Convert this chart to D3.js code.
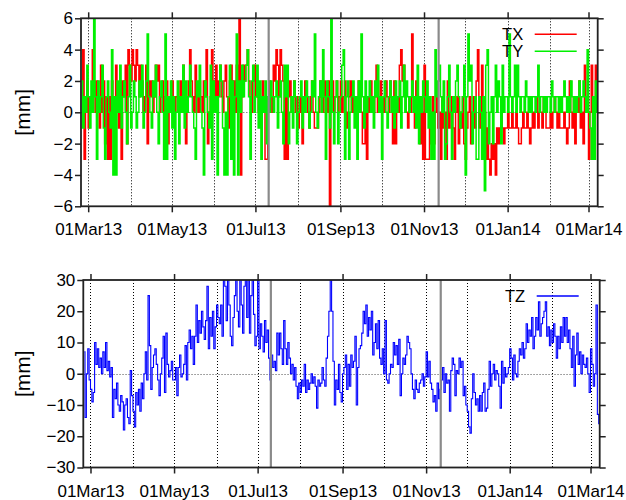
<!DOCTYPE html>
<html><head><meta charset="utf-8">
<script src="https://cdn.jsdelivr.net/npm/d3@7/dist/d3.min.js"></script>
<style>
body{margin:0;background:#fff}
svg{display:block}
text{font-family:"Liberation Sans",Arial,Helvetica,sans-serif;fill:#000}
</style>
</head><body>
<svg id="c" width="626" height="500"></svg>
<script>
// ---------- data ----------
const START_DATE = "2013-02-24T12:00:00Z";   // first daily sample
const X_DOMAIN = ["2013-02-23T18:00:00Z", "2014-03-07T17:00:00Z"];
const EVENT_DATES = ["2013-07-10T16:00:00Z", "2013-11-11T16:00:00Z"];
const TOP_Y_TICKS = [-6, -4, -2, 0, 2, 4, 6];
const BOTTOM_Y_TICKS = [-30, -20, -10, 0, 10, 20, 30];
const Y_LABEL = "[mm]";
const SERIES_NAMES = ["TX", "TY", "TZ"];

const TX = [
 1,4,-3,0,2,-1,1,0,4,2,
 0,2,1,-1,3,0,2,-2,1,-3,
 1,-3,2,0,1,3,0,-1,2,-3,
 2,1,3,-2,4,3,2,4,3,2,
 4,3,1,3,2,0,1,3,-2,2,
 1,2,0,1,3,2,3,0,1,2,
 0,1,2,-2,1,0,2,1,0,1,
 1,0,2,1,3,0,-2,1,2,4,
 2,1,0,3,1,0,2,1,0,2,
 1,4,-2,0,1,4,2,0,3,1,
 2,3,1,0,2,3,1,-1,2,3,
 1,2,0,3,2,6,-4,1,3,2,
 3,4,2,1,0,2,3,1,2,0,
 1,0,2,1,-3,-3,0,2,1,0,
 3,2,4,3,1,4,3,2,-3,1,
 -3,1,2,0,1,2,0,1,-1,0,
 1,-2,0,2,1,0,-1,1,2,0,
 -1,-1,-1,0,2,1,0,2,1,0,
 2,-6,1,2,0,1,2,0,1,2,
 0,1,2,-1,0,1,2,0,1,0,
 1,0,2,1,0,-2,-2,0,-3,1,
 0,2,1,0,1,3,0,1,2,0,
 1,0,2,1,0,2,1,-2,2,-2,
 1,0,3,4,2,3,1,0,-1,1,
 0,5,1,-1,2,0,1,-2,0,-3,
 3,-3,-3,-3,0,-2,1,-2,0,1,
 -1,0,-3,1,-1,0,-3,2,-1,0,
 1,-1,-3,0,1,-2,0,-1,1,-2,
 -3,-1,0,1,-2,0,1,-1,2,4,
 -1,0,3,-2,0,-3,-1,-3,-4,-2,
 -3,-2,-4,-1,-2,-1,0,-1,-2,-1,
 -1,0,-1,-1,0,-1,-1,0,-1,-2,
 -2,-1,0,-1,-1,0,-1,-2,-1,0,
 -1,0,1,-1,0,0,-1,1,0,-1,
 -1,-1,0,-1,0,1,0,-1,0,-1,
 -1,-1,0,-1,-2,-1,2,0,-1,1,
 -2,1,0,2,-1,0,-2,3,0,1,
 -3,0,3,-1,-3,3,2
];

const TY = [
 2,-1,1,0,3,1,-1,2,0,6,
 1,-3,2,0,1,3,-1,-3,1,2,
 0,-1,4,-4,1,-4,2,0,3,-1,
 1,2,0,-2,1,3,-1,0,2,1,
 -1,0,2,1,3,-1,0,2,5,1,
 0,-1,2,1,3,0,-2,1,2,0,
 -3,5,-3,1,0,2,-1,1,-3,0,
 2,-2,1,0,3,-1,2,0,1,3,
 1,0,-1,-3,2,1,3,0,-1,-4,
 2,1,0,-1,3,-3,2,0,1,-4,
 1,3,2,-1,-4,0,-4,1,3,-3,
 2,-4,1,5,-4,2,0,3,1,2,
 3,4,1,-3,2,3,0,1,3,-1,
 2,-3,1,0,2,-2,1,0,2,1,
 0,1,2,-1,1,2,0,-2,3,1,
 3,-2,0,1,-1,2,1,-2,0,1,
 2,-1,1,0,2,1,-1,0,2,1,
 5,0,-1,1,2,0,4,1,-3,2,
 1,-1,6,0,-2,1,2,-2,0,1,
 3,4,-3,1,2,-3,0,1,2,-1,
 1,-3,2,0,5,1,-1,2,0,1,
 2,0,1,-1,2,1,3,0,1,-3,
 1,2,0,-1,1,2,0,1,-1,2,
 0,1,2,-1,1,3,0,2,1,0,
 1,2,0,1,-1,3,-2,1,0,2,
 1,0,2,-1,1,-3,0,-3,4,1,
 2,3,1,0,2,-3,-2,1,3,0,
 -3,1,0,2,3,1,-1,0,1,3,
 -4,1,5,2,3,-2,0,1,-3,-3,
 1,0,-3,1,-5,3,4,-2,0,1,
 -2,1,3,0,2,1,-2,3,0,1,
 1,0,5,1,0,1,3,0,3,1,
 0,1,1,0,2,1,0,1,0,1,
 1,0,1,3,0,1,1,0,1,0,
 1,1,0,2,1,0,1,1,0,1,
 0,1,2,1,0,1,0,2,1,0,
 1,0,1,2,0,1,2,1,0,4,
 0,-1,-3,1,-3,2,0
];

const TZ = [
 7,-14,0,8,-2,-5,-9,-6,10,3,
 8,2,5,0,7,2,10,1,4,-1,
 2,-14,-5,-8,-3,-10,-12,-7,-9,-18,
 -10,-8,-14,-16,1,-7,-12,-17,-6,-10,
 -5,-12,-3,-8,0,7,-2,25,9,-5,
 2,6,8,3,-2,-7,0,5,12,-6,
 13,3,-1,1,4,-2,-2,2,-7,2,
 6,-1,0,3,9,-2,10,14,8,12,
 3,12,22,10,17,13,20,15,11,17,
 28,8,18,12,20,8,15,22,18,16,
 22,12,31,28,17,32,22,12,9,18,
 25,32,20,15,31,22,13,28,32,18,
 31,13,25,32,19,9,12,31,8,16,
 12,7,17,10,14,5,-2,6,2,4,
 1,13,6,13,8,3,17,8,3,10,
 5,0,3,-2,2,-4,-8,-3,-6,-2,
 -4,3,-6,-2,-5,-3,0,-3,-1,-4,
 -11,-2,-4,-3,2,-2,-4,5,12,20,
 31,20,4,-10,-2,-5,3,-6,-9,0,
 2,6,-5,3,-4,6,2,4,12,-10,
 2,8,9,13,20,16,22,12,18,14,
 20,6,10,16,8,17,5,3,8,0,
 17,-2,-3,0,3,2,10,6,9,3,
 11,-7,0,5,3,6,12,10,8,0,
 -5,-8,-2,-5,-6,-3,-2,0,-4,-1,
 7,-1,4,-3,-5,-9,-7,-12,-3,-8,
 -5,-2,2,-6,0,-3,-2,-12,1,5,
 3,-7,1,0,5,2,4,-7,-4,-10,
 -12,-17,-19,-8,0,-6,-10,-8,-12,-7,
 -12,-6,-3,-12,-11,-5,4,-4,0,3,
 -2,1,0,-4,-11,4,-3,2,-1,0,
 2,8,5,-2,6,0,-1,4,8,6,
 10,5,8,16,10,14,12,18,8,12,
 18,14,23,12,16,18,20,23,12,15,
 9,14,10,16,12,5,12,8,15,10,
 18,12,18,10,14,8,2,12,-4,6,
 13,3,7,0,6,3,2,5,0,-6,
 8,3,-4,0,22,-13,-16
];

// ---------- drawing ----------
const svg = d3.select("#c");
const start = new Date(START_DATE);
const toPoints = vals => vals.map((v, i) => ({date: d3.utcDay.offset(start, i), v}));
const fmt = d3.utcFormat("%d%b%y");

function drawPanel(cfg, id) {
  const {left, right, top, bottom, yDomain, yTicks, series, yLabelX} = cfg;
  const g = svg.append("g");
  const x = d3.scaleUtc().domain(X_DOMAIN.map(d => new Date(d))).range([left, right]);
  const y = d3.scaleLinear().domain(yDomain).range([bottom, top]);

  g.append("clipPath").attr("id", "clip" + id)
    .append("rect").attr("x", left).attr("y", top)
    .attr("width", right - left).attr("height", bottom - top);

  // monthly dotted grid
  const months = x.ticks(d3.utcMonth.every(1));
  g.append("g").selectAll("line").data(months).join("line")
    .attr("x1", d => Math.round(x(d)) + 0.5).attr("x2", d => Math.round(x(d)) + 0.5)
    .attr("y1", top).attr("y2", bottom)
    .attr("stroke", "#000").attr("stroke-width", 1).attr("stroke-dasharray", "1,2");

  // zero line
  g.append("line")
    .attr("x1", left).attr("x2", right)
    .attr("y1", Math.round(y(0)) + 0.5).attr("y2", Math.round(y(0)) + 0.5)
    .attr("stroke", "#888").attr("stroke-width", 1.2).attr("stroke-dasharray", "1.5,1.5");

  // series (step lines)
  const line = d3.line().curve(d3.curveStep).x(d => x(d.date)).y(d => y(d.v));
  const dg = g.append("g").attr("clip-path", `url(#clip${id})`);
  series.forEach(s => {
    dg.append("path").datum(toPoints(s.values))
      .attr("d", line).attr("fill", "none")
      .attr("stroke", s.color).attr("stroke-width", s.width)
      .attr("stroke-linejoin", "miter");
  });

  // event lines
  g.append("g").selectAll("line").data(EVENT_DATES.map(d => new Date(d))).join("line")
    .attr("x1", d => x(d)).attr("x2", d => x(d))
    .attr("y1", top).attr("y2", bottom)
    .attr("stroke", "#8a8a8a").attr("stroke-width", 2.2);

  // axes
  const major = x.ticks(d3.utcMonth.every(2));
  g.append("g").attr("transform", `translate(0,${bottom})`)
    .call(d3.axisBottom(x).tickValues(major).tickFormat(fmt).tickSize(6).tickSizeOuter(0).tickPadding(11));
  g.append("g").attr("transform", `translate(0,${top})`)
    .call(d3.axisTop(x).tickValues(major).tickFormat("").tickSize(6).tickSizeOuter(0));
  g.append("g").attr("transform", `translate(${left},0)`)
    .call(d3.axisLeft(y).tickValues(yTicks).tickFormat(d3.format("d")).tickSize(6).tickSizeOuter(0).tickPadding(2));
  g.append("g").attr("transform", `translate(${right},0)`)
    .call(d3.axisRight(y).tickValues(yTicks).tickFormat("").tickSize(6).tickSizeOuter(0));
  g.selectAll(".domain").remove();
  g.selectAll(".tick line").attr("stroke", "#222").attr("stroke-width", 1.5);
  g.selectAll(".tick text").attr("font-size", 17).attr("fill", "#000")
    .attr("font-family", '"Liberation Sans", Arial, sans-serif');

  // border
  g.append("rect").attr("x", left).attr("y", top)
    .attr("width", right - left).attr("height", bottom - top)
    .attr("fill", "none").attr("stroke", "#222").attr("stroke-width", 1.8);

  // y label
  g.append("text")
    .attr("transform", `translate(${yLabelX},${(top + bottom) / 2}) rotate(-90)`)
    .attr("text-anchor", "middle").attr("dominant-baseline", "central")
    .attr("font-size", 21).text(Y_LABEL);

  // legend
  series.forEach((s, k) => {
    const ly = top + 16 + k * 17;
    g.append("text").attr("x", right - 74.5).attr("y", ly + 6)
      .attr("text-anchor", "end").attr("font-size", 16.5).text(s.name);
    g.append("line").attr("x1", right - 63).attr("x2", right - 21)
      .attr("y1", ly).attr("y2", ly)
      .attr("stroke", s.color).attr("stroke-width", 1.5);
  });
}

drawPanel({
  left: 81, right: 597.7, top: 18.3, bottom: 206.3,
  yDomain: [-6, 6], yTicks: TOP_Y_TICKS, yLabelX: 22,
  series: [
    {name: SERIES_NAMES[0], values: TX, color: "#ff0000", width: 1.5},
    {name: SERIES_NAMES[1], values: TY, color: "#00f000", width: 1.5}
  ]
}, 1);

drawPanel({
  left: 83.3, right: 599.7, top: 280, bottom: 467.5,
  yDomain: [-30, 30], yTicks: BOTTOM_Y_TICKS, yLabelX: 22,
  series: [
    {name: SERIES_NAMES[2], values: TZ, color: "#0000ff", width: 1.1}
  ]
}, 2);
</script>
</body></html>
